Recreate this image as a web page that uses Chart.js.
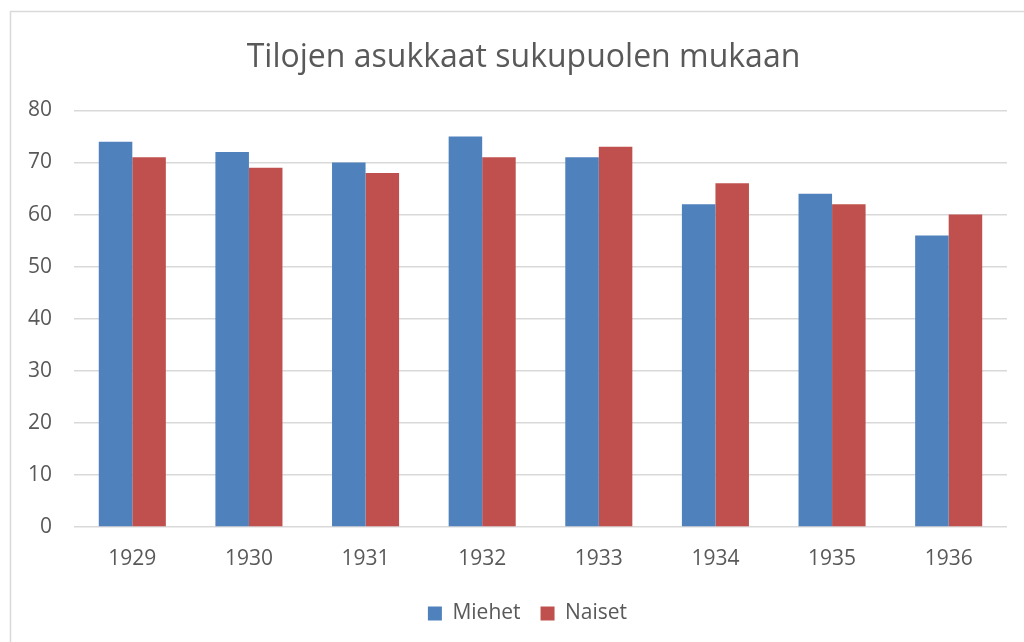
<!DOCTYPE html>
<html>
<head>
<meta charset="utf-8">
<script src="https://cdn.jsdelivr.net/npm/chart.js@4/dist/chart.umd.min.js"></script>
<style>
  html, body { margin: 0; padding: 0; background: #ffffff; }
  #wrap { width: 1024px; height: 642px; position: relative; }
</style>
</head>
<body>
<div id="wrap"><canvas id="c" width="1024" height="642"></canvas></div>
<script>
const chartTitle = "Tilojen asukkaat sukupuolen mukaan";
const categories = ["1929", "1930", "1931", "1932", "1933", "1934", "1935", "1936"];
const miehet = [74, 72, 70, 75, 71, 62, 64, 56];
const naiset = [71, 69, 68, 71, 73, 66, 62, 60];
const seriesNames = ["Miehet", "Naiset"];
const yMin = 0, yMax = 80, yStep = 10;

const textColor = "#595959";
const fontFamily = "'Open Sans', 'Noto Sans', sans-serif";

const borderPlugin = {
  id: "outerBorder",
  beforeDraw(chart) {
    const ctx = chart.ctx;
    ctx.save();
    ctx.fillStyle = "#ffffff";
    ctx.fillRect(0, 0, chart.width, chart.height);
    ctx.strokeStyle = "#d9d9d9";
    ctx.lineWidth = 1.5;
    ctx.strokeRect(10.5, 11.5, 1100, 700);
    ctx.restore();
  },
  afterLayout(chart) {
    // the original chart area extends past the right edge of the picture,
    // so the title and legend are centred a little right of the canvas centre
    if (chart.titleBlock) { chart.titleBlock.left += 20; chart.titleBlock.right += 20; }
    if (chart.legend) { chart.legend.left += 24; chart.legend.right += 24; }
  }
};

new Chart(document.getElementById("c"), {
  type: "bar",
  data: {
    labels: categories,
    datasets: [
      { label: seriesNames[0], data: miehet, backgroundColor: "#4f81bd", borderWidth: 0,
        categoryPercentage: 0.575, barPercentage: 1.0 },
      { label: seriesNames[1], data: naiset, backgroundColor: "#c0504d", borderWidth: 0,
        categoryPercentage: 0.575, barPercentage: 1.0 }
    ]
  },
  options: {
    responsive: false,
    animation: false,
    devicePixelRatio: 1,
    layout: { padding: { top: 39, right: 17, bottom: 8, left: 0 } },
    plugins: {
      title: {
        display: true,
        text: chartTitle,
        color: textColor,
        font: { family: fontFamily, size: 32, weight: "normal" },
        padding: { top: 0, bottom: 33 }
      },
      legend: {
        display: true,
        position: "bottom",
        labels: {
          color: textColor,
          font: { family: fontFamily, size: 21 },
          boxWidth: 14,
          boxHeight: 14,
          padding: 20
        }
      },
      tooltip: { enabled: false }
    },
    scales: {
      x: {
        grid: { display: false, drawTicks: false },
        border: { display: false },
        ticks: { color: textColor, font: { family: fontFamily, size: 21 }, padding: 19 },
        afterFit(scale) { scale.height = 56; }
      },
      y: {
        min: yMin, max: yMax,
        grid: { color: "#d9d9d9", lineWidth: 1.5, drawTicks: false },
        border: { display: false },
        ticks: { stepSize: yStep, color: textColor, font: { family: fontFamily, size: 21 }, padding: 22 },
        afterFit(scale) { scale.width = 74; }
      }
    }
  },
  plugins: [borderPlugin]
});
</script>
</body>
</html>
